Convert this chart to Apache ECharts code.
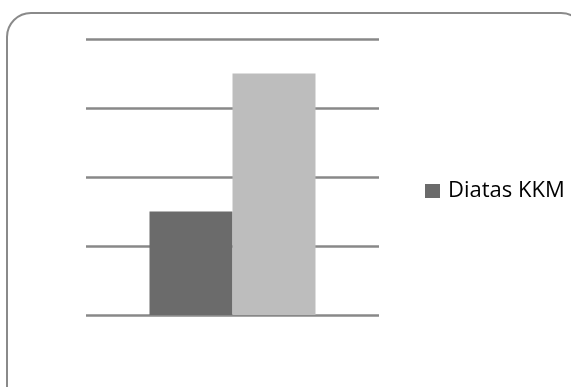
<!DOCTYPE html>
<html>
<head>
<meta charset="utf-8">
<script src="https://cdn.jsdelivr.net/npm/echarts@6/dist/echarts.min.js"></script>
<style>
  html, body { margin: 0; padding: 0; background: #fff; }
  #chart { width: 571px; height: 387px; }
</style>
</head>
<body>
<div id="chart"></div>
<script>
// data
const categories = ['Nilai'];
const diatasKKM = [15];
const dibawahKKM = [35];
const yTicks = { min: 0, max: 40, interval: 10 };

const myChart = echarts.init(document.getElementById('chart'));
myChart.setOption({
  animation: false,
  // rounded frame around the chart
  graphic: [{
    type: 'rect',
    shape: { x: 7, y: 13, width: 578, height: 400, r: 24 },
    style: { fill: 'none', stroke: '#8a8a8a', lineWidth: 2 },
    z: -1
  }],
  grid: { left: 86, right: 192, top: 39, bottom: 72 },
  legend: {
    data: ['Diatas KKM'],
    orient: 'vertical',
    left: 420,
    top: 175,
    icon: 'rect',
    itemWidth: 15,
    itemHeight: 14,
    itemGap: 6,
    textStyle: { fontFamily: 'Open Sans', fontSize: 22, color: '#000', padding: [0, 0, 0, 3] }
  },
  xAxis: {
    type: 'category',
    data: categories,
    axisLine: { show: false },
    axisTick: { show: false },
    axisLabel: { show: false }
  },
  yAxis: {
    type: 'value',
    min: yTicks.min,
    max: yTicks.max,
    interval: yTicks.interval,
    axisLine: { show: false },
    axisTick: { show: false },
    axisLabel: { show: false },
    splitLine: { lineStyle: { color: '#888888', width: 2.5 } }
  },
  series: [
    {
      name: 'Diatas KKM',
      type: 'bar',
      data: diatasKKM,
      barWidth: 83,
      barGap: '0%',
      itemStyle: { color: '#6b6b6b' }
    },
    {
      name: 'Dibawah KKM',
      type: 'bar',
      data: dibawahKKM,
      barWidth: 83,
      itemStyle: { color: '#bdbdbd' }
    }
  ]
});
</script>
</body>
</html>
